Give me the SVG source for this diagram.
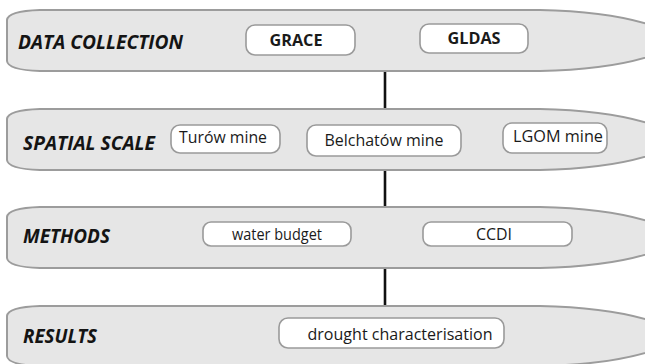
<svg xmlns="http://www.w3.org/2000/svg" width="645" height="364" viewBox="0 0 645 364">
<style>
.band{fill:#e6e6e6;stroke:#9c9c9c;stroke-width:2}
.box{fill:#ffffff;stroke:#9a9a9a;stroke-width:1.6}
.lbl{font-family:"Open Sans","Liberation Sans",sans-serif;font-weight:bold;font-style:italic;font-size:19px;fill:#141414}
.bt{font-family:"Open Sans","Liberation Sans",sans-serif;font-weight:bold;font-size:16px;fill:#1a1a1a;text-anchor:middle}
.nt{font-family:"Open Sans","Liberation Sans",sans-serif;font-size:17px;fill:#1a1a1a;text-anchor:middle}
.conn{stroke:#111;stroke-width:2.6;fill:none}
</style>
<rect width="645" height="364" fill="#ffffff"/>
<g id="connectors">
<line class="conn" x1="385" y1="71" x2="385" y2="109"/>
<line class="conn" x1="385" y1="170" x2="385" y2="207"/>
<line class="conn" x1="385" y1="268" x2="385" y2="306"/>
</g>
<g id="data-collection">
<path class="band" d="M40,10 L540,10 Q640,12 685,40.5 Q640,69 540,71 L40,71 Q8,70 7,61 L7,20 Q8,11 40,10 Z"/>
<text class="lbl" x="18" y="49" textLength="165" lengthAdjust="spacingAndGlyphs">DATA COLLECTION</text>
<g id="grace"><rect class="box" x="246" y="25" width="109" height="30" rx="9"/><text class="bt" x="296" y="45.5" textLength="53" lengthAdjust="spacingAndGlyphs">GRACE</text></g>
<g id="gldas"><rect class="box" x="420" y="24" width="108" height="29" rx="9"/><text class="bt" x="474" y="43.5" textLength="53" lengthAdjust="spacingAndGlyphs">GLDAS</text></g>
</g>
<g id="spatial-scale">
<path class="band" d="M40,109 L540,109 Q640,111 685,139.5 Q640,168 540,170 L40,170 Q8,169 7,160 L7,119 Q8,110 40,109 Z"/>
<text class="lbl" x="23" y="150" textLength="132" lengthAdjust="spacingAndGlyphs">SPATIAL SCALE</text>
<g id="turow"><rect class="box" x="171" y="125" width="109" height="28" rx="9"/><text class="nt" x="223" y="143" textLength="88" lengthAdjust="spacingAndGlyphs">Turów mine</text></g>
<g id="belchatow"><rect class="box" x="307" y="125" width="154" height="31" rx="9"/><text class="nt" x="384" y="146" textLength="119" lengthAdjust="spacingAndGlyphs">Belchatów mine</text></g>
<g id="lgom"><rect class="box" x="503" y="123" width="104" height="30" rx="9"/><text class="nt" x="558" y="142" textLength="90" lengthAdjust="spacingAndGlyphs">LGOM mine</text></g>
</g>
<g id="methods">
<path class="band" d="M40,207 L540,207 Q640,209 685,237.5 Q640,266 540,268 L40,268 Q8,267 7,258 L7,217 Q8,208 40,207 Z"/>
<text class="lbl" x="23" y="243" textLength="87" lengthAdjust="spacingAndGlyphs">METHODS</text>
<g id="water-budget"><rect class="box" x="203" y="222" width="148" height="24" rx="8"/><text class="nt" x="277" y="240" textLength="90" lengthAdjust="spacingAndGlyphs">water budget</text></g>
<g id="ccdi"><rect class="box" x="423" y="222" width="149" height="24" rx="8"/><text class="nt" x="494" y="240" textLength="36" lengthAdjust="spacingAndGlyphs">CCDI</text></g>
</g>
<g id="results">
<path class="band" d="M40,306 L540,306 Q640,308 685,336 Q640,364 540,366 L40,366 Q8,365 7,356 L7,316 Q8,307 40,306 Z"/>
<text class="lbl" x="23" y="343" textLength="74" lengthAdjust="spacingAndGlyphs">RESULTS</text>
<g id="drought"><rect class="box" x="279" y="318" width="225" height="30" rx="9"/><text class="nt" x="400" y="340" font-size="19" textLength="185" lengthAdjust="spacingAndGlyphs">drought characterisation</text></g>
</g>
</svg>
